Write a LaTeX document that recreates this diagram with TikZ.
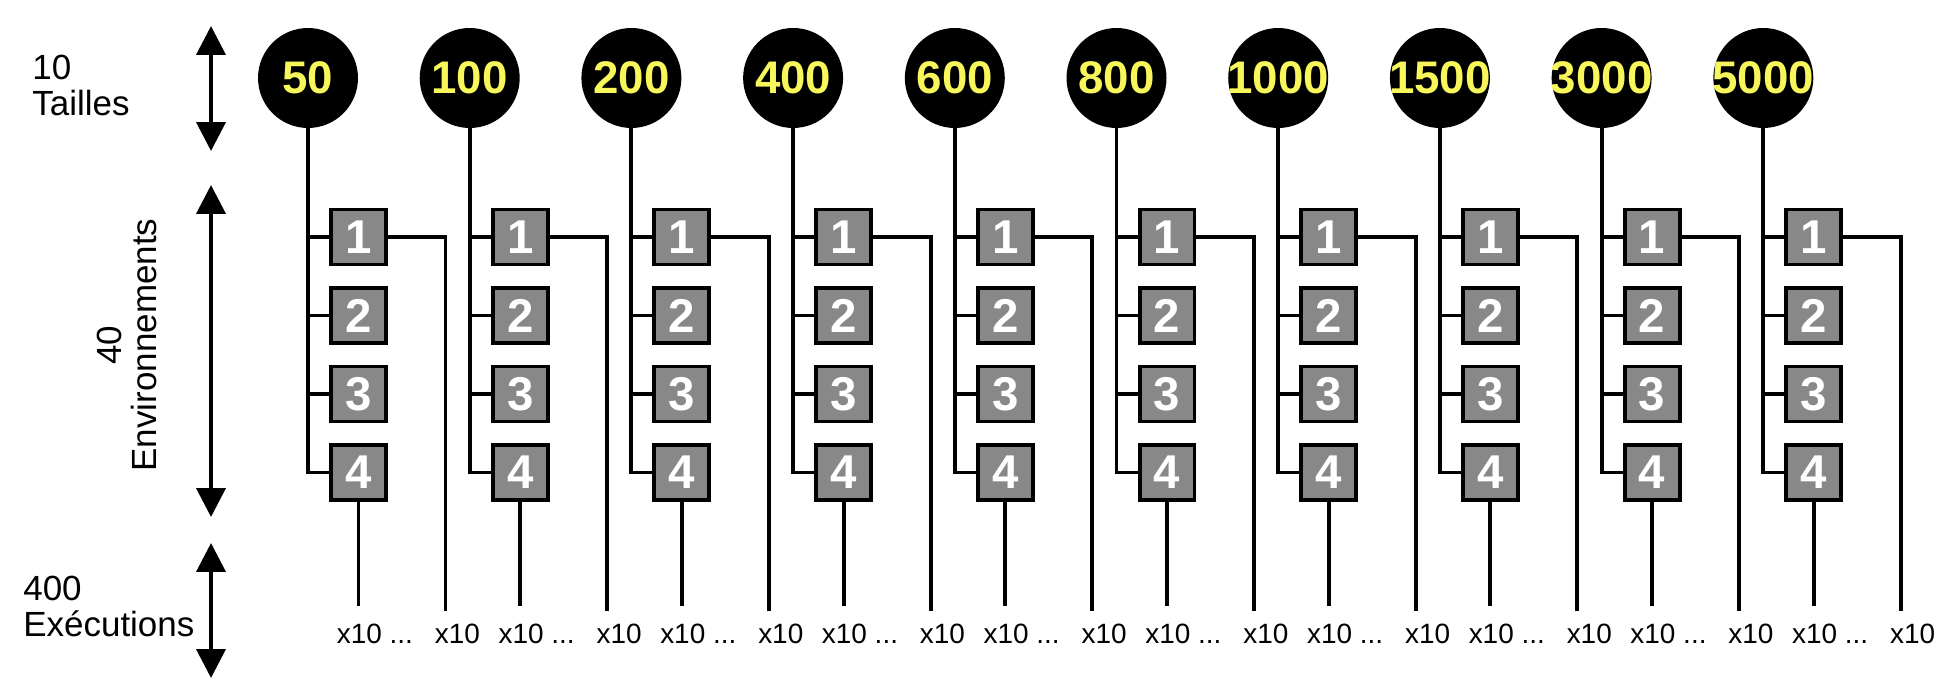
\documentclass[tikz,border=0pt]{standalone}
\usepackage{fontspec}
\setmainfont{Liberation Sans}
\usetikzlibrary{arrows.meta}
\definecolor{tailyellow}{RGB}{247,247,92}
\definecolor{envgray}{RGB}{136,136,136}
\newcommand{\tailtext}[1]{\makebox[0pt]{#1}}
\tikzset{
  tailnode/.style={circle, fill=black, inner sep=0pt, minimum size=2cm,
    text=tailyellow, font=\fontsize{26}{26}\selectfont\bfseries},
  envnode/.style={rectangle, draw=black, line width=2.25pt, fill=envgray,
    inner sep=0pt, minimum size=1.1cm, text=white,
    font=\fontsize{27}{27}\selectfont\bfseries},
  wire/.style={line width=2.25pt},
  dimarrow/.style={line width=2.25pt,
    {Triangle[width=16.4pt,length=16.4pt]}-{Triangle[width=16.4pt,length=16.4pt]}},
  axislabel/.style={font=\fontsize{19.9}{20.2}\selectfont, align=left, inner sep=0pt},
  runlabel/.style={font=\fontsize{15.9}{16}\selectfont, inner sep=0pt}
}
\begin{document}
\begin{tikzpicture}[x=0.02cm, y=-0.02cm]
  \useasboundingbox (0,0) rectangle (1939,695);
  \draw
    (308.0,78) node[tailnode] (t0){\tailtext{50}}
    (469.7,78) node[tailnode] (t1){\tailtext{100}}
    (631.4,78) node[tailnode] (t2){\tailtext{200}}
    (793.1,78) node[tailnode] (t3){\tailtext{400}}
    (954.8,78) node[tailnode] (t4){\tailtext{600}}
    (1116.5,78) node[tailnode] (t5){\tailtext{800}}
    (1278.2,78) node[tailnode] (t6){\tailtext{1000}}
    (1439.9,78) node[tailnode] (t7){\tailtext{1500}}
    (1601.6,78) node[tailnode] (t8){\tailtext{3000}}
    (1763.3,78) node[tailnode] (t9){\tailtext{5000}};
  \foreach \i in {0,...,9}{
    \pgfmathsetmacro{\x}{308+161.7*\i}
    \foreach \k/\y in {1/237,2/315.5,3/394,4/472.5}{
      \node[envnode] (b\i\k) at (\x+50.5,\y) {\k};
      \draw[wire] (t\i) |- (b\i\k);
    }
    \coordinate (r\i) at (\x+137.5,611);
    \coordinate (e\i) at (\x+50.5,606);
    \draw[wire] (b\i1) -| (r\i);
    \draw[wire] (b\i4) -- (e\i);
    \node[runlabel, anchor=base west] (xa\i) at (\x+28.5,643) {x10 ...};
    \node[runlabel, anchor=base west] (xb\i) at (\x+126.5,643) {x10};
  }
  \coordinate (a1) at (211,26);
  \coordinate (a2) at (211,151);
  \coordinate (a3) at (211,185);
  \coordinate (a4) at (211,517);
  \coordinate (a5) at (211,543);
  \coordinate (a6) at (211,678);
  \draw[dimarrow] (a1) -- (a2);
  \draw[dimarrow] (a3) -- (a4);
  \draw[dimarrow] (a5) -- (a6);
  \node[axislabel, anchor=north west] (tl) at (32,55) {10\\Tailles};
  \node[axislabel, align=center, rotate=90] (el) at (127,345) {40\\Environnements};
  \node[axislabel, anchor=north west] (xl) at (23,576) {400\\Exécutions};
\end{tikzpicture}
\end{document}
